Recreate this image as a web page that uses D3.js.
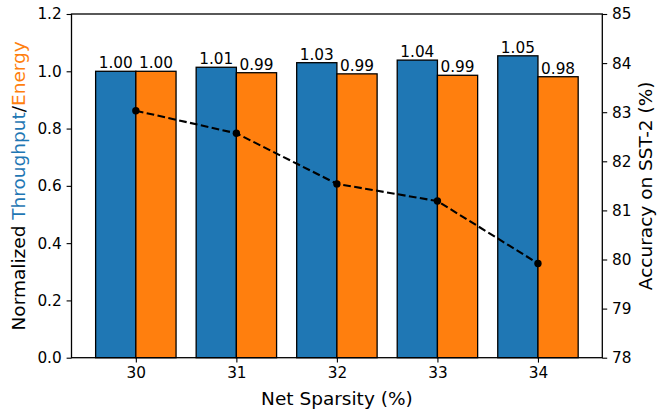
<!DOCTYPE html>
<html lang="en">
<head>
<meta charset="UTF-8">
<title>Throughput / Energy vs Sparsity</title>
<script src="https://d3js.org/d3.v7.min.js"></script>
<style>
  body { margin: 0; background: #fff; }
  text { font-family: "DejaVu Sans", sans-serif; }
</style>
</head>
<body>
<svg width="657" height="409"></svg>
<script>
// data
const sparsity = [30, 31, 32, 33, 34];
const throughput = [1.0, 1.014, 1.030, 1.039, 1.054];
const energy = [1.0, 0.995, 0.991, 0.986, 0.981];
const throughputLabels = ["1.00", "1.01", "1.03", "1.04", "1.05"];
const energyLabels = ["1.00", "0.99", "0.99", "0.99", "0.98"];
const accuracy = [83.03, 82.57, 81.54, 81.19, 79.92];
const leftTicks = [0, 0.2, 0.4, 0.6, 0.8, 1.0, 1.2];
const rightTicks = [78, 79, 80, 81, 82, 83, 84, 85];

const blue = "#1f77b4", orange = "#ff7f0e";
const margin = { left: 71.5, right: 54.7, top: 14, bottom: 51.3 };
const width = 657, height = 409;
const tickFont = 15.3, labelFont = 18.5;

const svg = d3.select("svg");

// x: linear so bars sit either side of each tick (width 0.4)
const x = d3.scaleLinear()
  .domain([29.36, 34.64])
  .range([margin.left, width - margin.right]);
const barW = x(30.4) - x(30);

const y = d3.scaleLinear().domain([0, 1.2]).range([height - margin.bottom, margin.top]);
const y2 = d3.scaleLinear().domain([78, 85]).range([height - margin.bottom, margin.top]);

// bars
const bars = svg.append("g");
bars.selectAll("rect.tp")
  .data(sparsity)
  .join("rect")
  .attr("class", "tp")
  .attr("x", (d) => x(d) - barW)
  .attr("y", (d, i) => y(throughput[i]))
  .attr("width", barW)
  .attr("height", (d, i) => y(0) - y(throughput[i]))
  .attr("fill", blue)
  .attr("stroke", "#000")
  .attr("stroke-width", 1.3);

bars.selectAll("rect.en")
  .data(sparsity)
  .join("rect")
  .attr("class", "en")
  .attr("x", (d) => x(d))
  .attr("y", (d, i) => y(energy[i]))
  .attr("width", barW)
  .attr("height", (d, i) => y(0) - y(energy[i]))
  .attr("fill", orange)
  .attr("stroke", "#000")
  .attr("stroke-width", 1.3);

// bar value labels
bars.selectAll("text.tpl")
  .data(sparsity)
  .join("text")
  .attr("x", (d) => x(d) - barW / 2)
  .attr("y", (d, i) => y(throughput[i]) - 3)
  .attr("text-anchor", "middle")
  .attr("font-size", tickFont)
  .text((d, i) => throughputLabels[i]);

bars.selectAll("text.enl")
  .data(sparsity)
  .join("text")
  .attr("x", (d) => x(d) + barW / 2)
  .attr("y", (d, i) => y(energy[i]) - 3)
  .attr("text-anchor", "middle")
  .attr("font-size", tickFont)
  .text((d, i) => energyLabels[i]);

// accuracy line
const line = d3.line()
  .x((d) => x(d))
  .y((d, i) => y2(accuracy[i]));

svg.append("path")
  .datum(sparsity)
  .attr("d", line)
  .attr("fill", "none")
  .attr("stroke", "#000")
  .attr("stroke-width", 2.1)
  .attr("stroke-dasharray", "7.7,3.4");

svg.append("g")
  .selectAll("circle")
  .data(sparsity)
  .join("circle")
  .attr("cx", (d) => x(d))
  .attr("cy", (d, i) => y2(accuracy[i]))
  .attr("r", 3.7)
  .attr("fill", "#000");

// frame
svg.append("rect")
  .attr("x", margin.left)
  .attr("y", margin.top)
  .attr("width", width - margin.left - margin.right)
  .attr("height", height - margin.top - margin.bottom)
  .attr("fill", "none")
  .attr("stroke", "#000")
  .attr("stroke-width", 1.3);

// axes
function styleAxis(g) {
  g.select(".domain").remove();
  g.selectAll(".tick line").attr("stroke", "#000").attr("stroke-width", 1.1);
  g.selectAll(".tick text").attr("font-size", tickFont).attr("font-family", "DejaVu Sans, sans-serif").attr("fill", "#000");
}

svg.append("g")
  .attr("transform", `translate(0,${height - margin.bottom})`)
  .call(d3.axisBottom(x).tickValues(sparsity).tickSize(4.9).tickPadding(4.5).tickFormat(d3.format("d")))
  .call(styleAxis);

svg.append("g")
  .attr("transform", `translate(${margin.left},0)`)
  .call(d3.axisLeft(y).tickValues(leftTicks).tickSize(4.9).tickPadding(4.9).tickFormat(d3.format(".1f")))
  .call(styleAxis);

svg.append("g")
  .attr("transform", `translate(${width - margin.right},0)`)
  .call(d3.axisRight(y2).tickValues(rightTicks).tickSize(4.9).tickPadding(4.9).tickFormat(d3.format("d")))
  .call(styleAxis);

// axis labels
svg.append("text")
  .attr("x", (margin.left + width - margin.right) / 2)
  .attr("y", 405)
  .attr("text-anchor", "middle")
  .attr("font-size", labelFont)
  .text("Net Sparsity (%)");

const yl = svg.append("text")
  .attr("transform", `translate(25,${(margin.top + height - margin.bottom) / 2}) rotate(-90)`)
  .attr("text-anchor", "middle")
  .attr("font-size", labelFont);
yl.append("tspan").text("Normalized ");
yl.append("tspan").attr("fill", blue).text("Throughput");
yl.append("tspan").text("/");
yl.append("tspan").attr("fill", orange).text("Energy");

svg.append("text")
  .attr("transform", `translate(652,${(margin.top + height - margin.bottom) / 2}) rotate(-90)`)
  .attr("text-anchor", "middle")
  .attr("font-size", labelFont)
  .text("Accuracy on SST-2 (%)");
</script>
</body>
</html>
